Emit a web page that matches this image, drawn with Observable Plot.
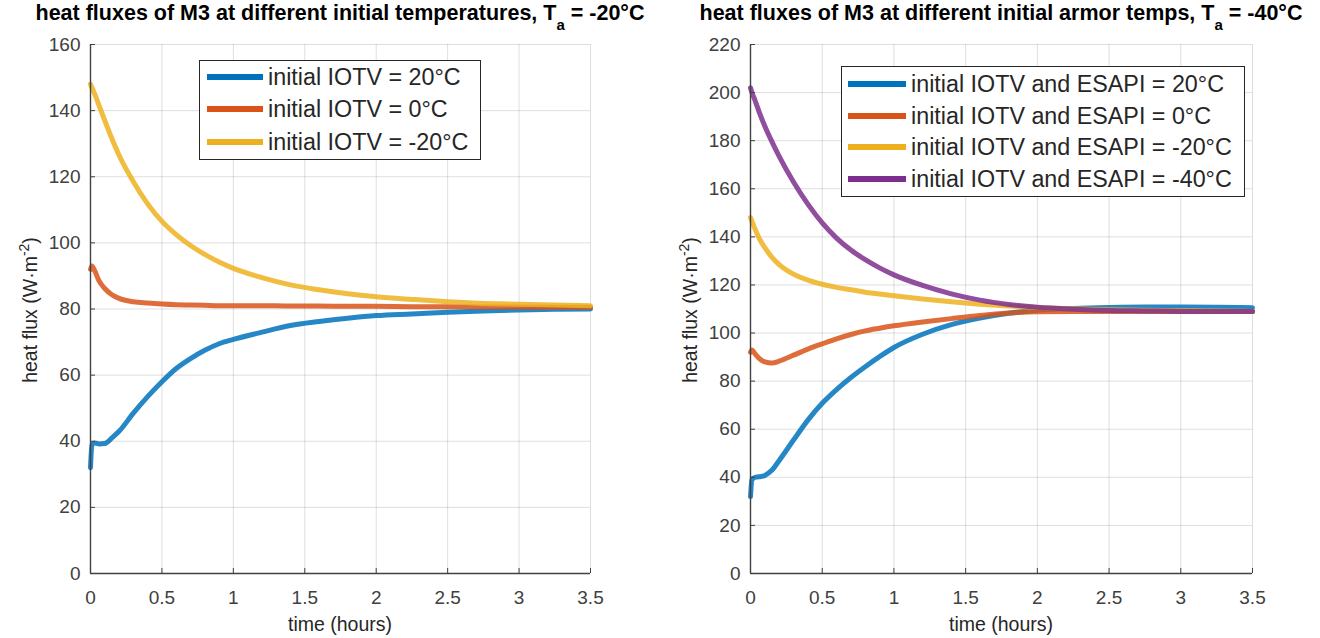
<!DOCTYPE html>
<html><head><meta charset="utf-8">
<script src="https://cdn.jsdelivr.net/npm/d3@7"></script>
<script src="https://cdn.jsdelivr.net/npm/@observablehq/plot@0.6"></script>
<style>
body{margin:0;background:#fff;font-family:"Liberation Sans",Arial,sans-serif;}
#wrap{position:relative;width:1320px;height:638px;overflow:hidden;}
.panel{position:absolute;top:0;}
.title{position:absolute;top:1px;font-weight:bold;font-size:21.5px;line-height:25px;color:#000;white-space:nowrap;transform:translateX(-50%);}
.title sub{font-size:15px;vertical-align:-10px;line-height:0;}
.xlab{position:absolute;top:612px;font-size:19.5px;line-height:24px;color:#262626;white-space:nowrap;transform:translateX(-50%);}
.ylab{position:absolute;font-size:19.5px;line-height:24px;color:#262626;white-space:nowrap;transform:translate(-50%,-50%) rotate(-90deg);}
.ylab sup{font-size:14px;vertical-align:8px;line-height:0;}
.legend{position:absolute;border:1px solid #262626;background:#fff;box-sizing:border-box;}
.row{position:absolute;left:0;height:26px;display:flex;align-items:center;font-size:23.3px;color:#262626;white-space:nowrap;}
.sw{display:inline-block;height:5.5px;margin-right:5px;}
</style></head><body><div id="wrap"></div>
<script>
const colors = ["#0072BD", "#D95319", "#EDB120", "#7E2F8E"];
const time = [0, 0.01, 0.03, 0.06, 0.1, 0.15, 0.2, 0.3, 0.4, 0.5, 0.6, 0.7, 0.8, 0.9, 1.0, 1.2, 1.4, 1.6, 1.8, 2.0, 2.25, 2.5, 2.75, 3.0, 3.25, 3.5];

// Left panel, Ta = -20 C
const leftLabels = ["initial IOTV = 20°C", "initial IOTV = 0°C", "initial IOTV = -20°C"];
const left20  = [32, 39, 39.5, 39.2, 39.3, 41, 43, 48.5, 53.5, 58, 62, 65, 67.5, 69.5, 70.8, 73, 75, 76.2, 77.2, 78, 78.5, 79, 79.4, 79.7, 79.9, 80];
const left0   = [92, 93, 91.5, 88.5, 86.2, 84.3, 83.2, 82.2, 81.8, 81.5, 81.3, 81.2, 81.1, 81, 81, 81, 80.9, 80.9, 80.8, 80.8, 80.7, 80.7, 80.6, 80.6, 80.5, 80.5];
const leftM20 = [148, 147, 145, 141.5, 137, 131.5, 126.5, 118.5, 111.8, 106.5, 102.5, 99.2, 96.5, 94.2, 92.3, 89.5, 87.3, 85.8, 84.6, 83.7, 82.9, 82.2, 81.7, 81.4, 81.2, 81];
const leftYTicks = [0, 20, 40, 60, 80, 100, 120, 140, 160];

// Right panel, Ta = -40 C
const rightLabels = ["initial IOTV and ESAPI = 20°C", "initial IOTV and ESAPI = 0°C", "initial IOTV and ESAPI = -20°C", "initial IOTV and ESAPI = -40°C"];
const right20  = [32, 39, 40, 40.2, 40.8, 43, 47, 55.5, 63.8, 70.8, 76.5, 81.5, 86, 90.2, 94, 99.5, 103.5, 106.2, 108.2, 109.5, 110.2, 110.6, 110.8, 110.8, 110.7, 110.5];
const right0   = [92, 93, 91.5, 89.5, 88, 87.5, 88.3, 90.8, 93.3, 95.5, 97.6, 99.4, 100.9, 102, 103, 104.6, 106, 107.3, 108.3, 108.9, 109, 109, 109, 109, 109, 109];
const rightM20 = [148, 146.5, 143.5, 139.5, 135.5, 131.5, 128.5, 124.5, 122, 120.3, 119, 118, 117, 116.2, 115.5, 114.2, 113, 112, 111.2, 110.6, 110.1, 109.7, 109.5, 109.3, 109.2, 109];
const rightM40 = [202, 200, 197, 192, 186, 179.5, 173.5, 162.8, 153.6, 145.8, 139.5, 134.5, 130.5, 127.1, 124.2, 119.8, 116.3, 113.7, 111.9, 110.7, 109.9, 109.4, 109.2, 109, 109, 109];
const rightYTicks = [0, 20, 40, 60, 80, 100, 120, 140, 160, 180, 200, 220];

const xTicks = [0, 0.5, 1, 1.5, 2, 2.5, 3, 3.5];

function toRows(seriesList, labels) {
  const rows = [];
  seriesList.forEach((vals, i) => vals.forEach((v, j) => rows.push({t: time[j], v, s: labels[i]})));
  return rows;
}

function makePlot(seriesList, labels, yMax, yTicks, mr) {
  const rows = toRows(seriesList, labels);
  return Plot.plot({
    width: 660, height: 638,
    marginLeft: 90, marginRight: mr, marginTop: 44, marginBottom: 65,
    style: {fontFamily: "Liberation Sans, Arial, sans-serif", fontSize: "19px", color: "#404040", background: "#fff"},
    x: {domain: [0, 3.5], ticks: xTicks},
    y: {domain: [0, yMax], ticks: yTicks},
    color: {domain: labels, range: colors},
    marks: [
      Plot.gridX(xTicks, {stroke: "#000", strokeOpacity: 0.13}),
      Plot.gridY(yTicks, {stroke: "#000", strokeOpacity: 0.13}),
      Plot.line(rows, {x: "t", y: "v", z: "s", stroke: "s", strokeWidth: 5, strokeOpacity: 0.85, curve: "monotone-x"}),
      Plot.axisX({ticks: xTicks, tickSize: -5, tickPadding: 22, stroke: "#404040", label: null, fontSize: 19, tickFormat: d => String(d)}),
      Plot.axisY({ticks: yTicks, tickSize: -5, tickPadding: 15, stroke: "#404040", label: null, fontSize: 19}),
      Plot.ruleY([0], {stroke: "#404040", strokeWidth: 1.4}),
      Plot.ruleX([0], {stroke: "#404040", strokeWidth: 1.4})
    ]
  });
}

const wrap = document.getElementById("wrap");

function addDiv(cls, html, styles) {
  const d = document.createElement("div");
  d.className = cls;
  d.innerHTML = html;
  Object.assign(d.style, styles);
  wrap.appendChild(d);
  return d;
}

function addPanel(left, seriesList, labels, yMax, yTicks, mr, titleHtml, cx, ylabX, leg) {
  const div = document.createElement("div");
  div.className = "panel";
  div.style.left = left + "px";
  div.appendChild(makePlot(seriesList, labels, yMax, yTicks, mr));
  wrap.appendChild(div);
  addDiv("title", titleHtml, {left: cx + "px"});
  addDiv("xlab", "time (hours)", {left: cx + "px"});
  addDiv("ylab", "heat flux (W·m<sup>-2</sup>)", {left: ylabX + "px", top: "310px"});
  const lg = addDiv("legend", "", {left: leg.x + "px", top: leg.y + "px", width: leg.w + "px", height: leg.h + "px"});
  labels.forEach((lab, i) => {
    const r = document.createElement("div");
    r.className = "row";
    r.style.top = (leg.rowY[i] - leg.y - 14) + "px";
    r.style.left = (leg.swX - leg.x) + "px";
    r.innerHTML = `<span class="sw" style="width:${leg.swW}px;background:${colors[i]}"></span><span>${lab}</span>`;
    lg.appendChild(r);
  });
}

addPanel(0, [left20, left0, leftM20], leftLabels, 160, leftYTicks, 70,
  "heat fluxes of M3 at different initial temperatures, T<sub>a</sub> = -20°C", 340, 30,
  {x: 199, y: 60, w: 282, h: 100, swX: 206, swW: 56, rowY: [77, 109, 142]});
addPanel(660, [right20, right0, rightM20, rightM40], rightLabels, 220, rightYTicks, 68,
  "heat fluxes of M3 at different initial armor temps, T<sub>a</sub> = -40°C", 1001, 690,
  {x: 841, y: 66, w: 404, h: 131, swX: 847, swW: 58, rowY: [84, 116, 147, 179]});
</script></body></html>
